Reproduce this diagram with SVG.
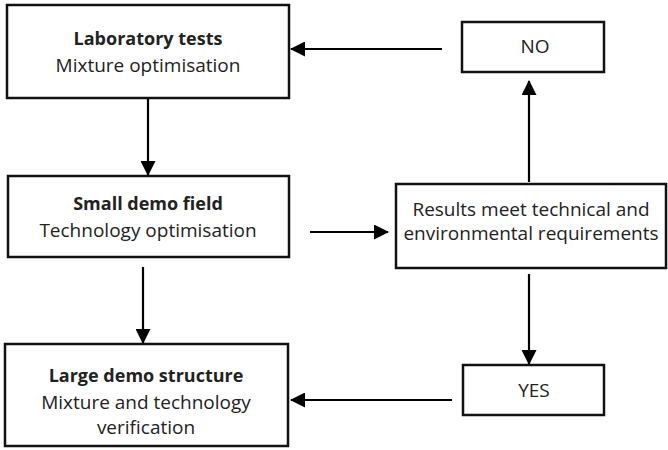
<svg xmlns="http://www.w3.org/2000/svg" width="668" height="450" viewBox="0 0 668 450">
<style>
.box{fill:#fff;stroke:#111;stroke-width:2.5}
.t{font-family:"Open Sans","Liberation Sans",sans-serif;font-size:19px;fill:#222;text-anchor:middle}
.b{font-weight:bold;font-size:18px}
.c{stroke:#000;stroke-width:2.2;fill:none;marker-end:url(#ah)}
</style>
<defs>
<marker id="ah" markerUnits="userSpaceOnUse" markerWidth="15" markerHeight="15" refX="14" refY="7.5" orient="auto">
<path d="M0,0 L15,7.5 L0,15 z" fill="#000"/>
</marker>
</defs>
<rect width="668" height="450" fill="#fff"/>
<g id="connectors">
<line class="c" x1="442" y1="49" x2="291" y2="49"/>
<line class="c" x1="148" y1="98" x2="148" y2="175"/>
<line class="c" x1="143" y1="267" x2="143" y2="343"/>
<line class="c" x1="310" y1="232" x2="388" y2="232"/>
<line class="c" x1="529" y1="182" x2="529" y2="81"/>
<line class="c" x1="529" y1="274" x2="529" y2="364"/>
<line class="c" x1="452" y1="400" x2="291" y2="400"/>
</g>
<g id="lab">
<rect class="box" x="7" y="5" width="282" height="93"/>
<text class="t b" x="148" y="45">Laboratory tests</text>
<text class="t" x="148" y="72">Mixture optimisation</text>
</g>
<g id="small">
<rect class="box" x="8" y="176" width="281" height="81"/>
<text class="t b" x="148" y="210">Small demo field</text>
<text class="t" x="148" y="237">Technology optimisation</text>
</g>
<g id="large">
<rect class="box" x="5" y="344" width="283" height="102"/>
<text class="t b" x="146" y="382">Large demo structure</text>
<text class="t" x="146" y="409">Mixture and technology</text>
<text class="t" x="146" y="434">verification</text>
</g>
<g id="no">
<rect class="box" x="462" y="22" width="142" height="50"/>
<text class="t" x="535" y="53">NO</text>
</g>
<g id="results">
<rect class="box" x="396" y="184" width="270" height="84"/>
<text class="t" x="531" y="216">Results meet technical and</text>
<text class="t" x="531" y="240">environmental requirements</text>
</g>
<g id="yes">
<rect class="box" x="463" y="365" width="141" height="50"/>
<text class="t" x="534" y="397">YES</text>
</g>
</svg>
